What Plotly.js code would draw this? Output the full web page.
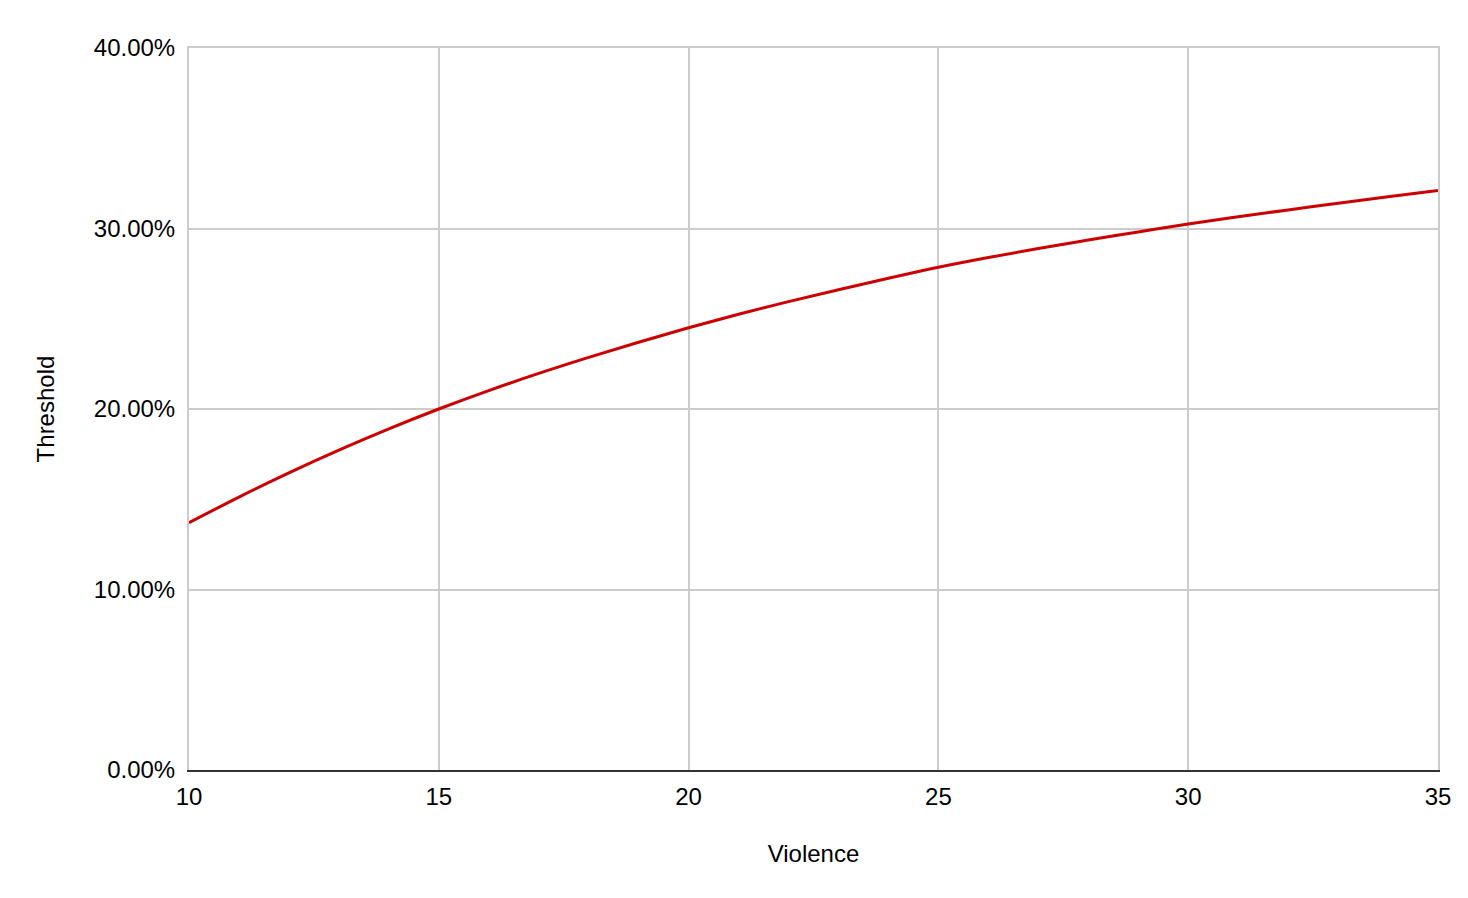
<!DOCTYPE html>
<html>
<head>
<meta charset="utf-8">
<script src="https://cdn.plot.ly/plotly-3.0.1.min.js"></script>
<style>html,body{margin:0;padding:0;background:#fff;}#chart{width:1468px;height:898px;}</style>
</head>
<body>
<div id="chart"></div>
<script>
const violence = [10,11,12,13,14,15,16,17,18,19,20,21,22,23,24,25,26,27,28,29,30,31,32,33,34,35];
const threshold = [0.1370,0.1512,0.1646,0.1772,0.1890,0.2000,0.2102,0.2197,0.2286,0.2370,0.2450,0.2525,0.2595,0.2661,0.2724,0.2785,0.2839,0.2889,0.2936,0.2981,0.3025,0.3065,0.3103,0.3140,0.3176,0.3210];
const xTitle = "Violence";
const yTitle = "Threshold";

const font = {family: "Liberation Sans, Arial, sans-serif", size: 24, color: "#000"};
const grid = "#cccccc";
Plotly.newPlot("chart", [{
  x: violence, y: threshold, type: "scatter", mode: "lines",
  line: {color: "#cc0000", width: 3, shape: "spline", smoothing: 1},
  hoverinfo: "x+y"
}, {
  x: [], y: [], xaxis: "x2", type: "scatter", mode: "lines", showlegend: false, hoverinfo: "skip"
}], {
  width: 1468, height: 898,
  margin: {l: 189, r: 30, t: 48, b: 128},
  paper_bgcolor: "#fff", plot_bgcolor: "#fff",
  font: font,
  showlegend: false,
  xaxis: {
    range: [10, 35], dtick: 5, tick0: 10,
    showgrid: true, gridcolor: grid, gridwidth: 2,
    zeroline: false,
    showline: true, linecolor: "#333333", linewidth: 2, mirror: false,
    ticks: "outside", ticklen: 4, tickcolor: "rgba(0,0,0,0)",
    tickfont: font,
    title: {text: xTitle, font: font, standoff: 36},
    automargin: false
  },
  xaxis2: {
    range: [10, 35], overlaying: "x", side: "top", anchor: "y",
    showgrid: false, zeroline: false, showticklabels: false, ticks: "",
    showline: true, linecolor: grid, linewidth: 2
  },
  yaxis: {
    range: [0, 0.4], dtick: 0.1, tick0: 0, tickformat: ".2%",
    showgrid: true, gridcolor: grid, gridwidth: 2,
    zeroline: false,
    showline: true, linecolor: grid, linewidth: 2, mirror: true,
    ticks: "outside", ticklen: 7, tickcolor: "rgba(0,0,0,0)",
    tickfont: font,
    title: {text: yTitle, font: font, standoff: 32},
    automargin: false
  }
}, {displayModeBar: false, staticPlot: true});
</script>
</body>
</html>
